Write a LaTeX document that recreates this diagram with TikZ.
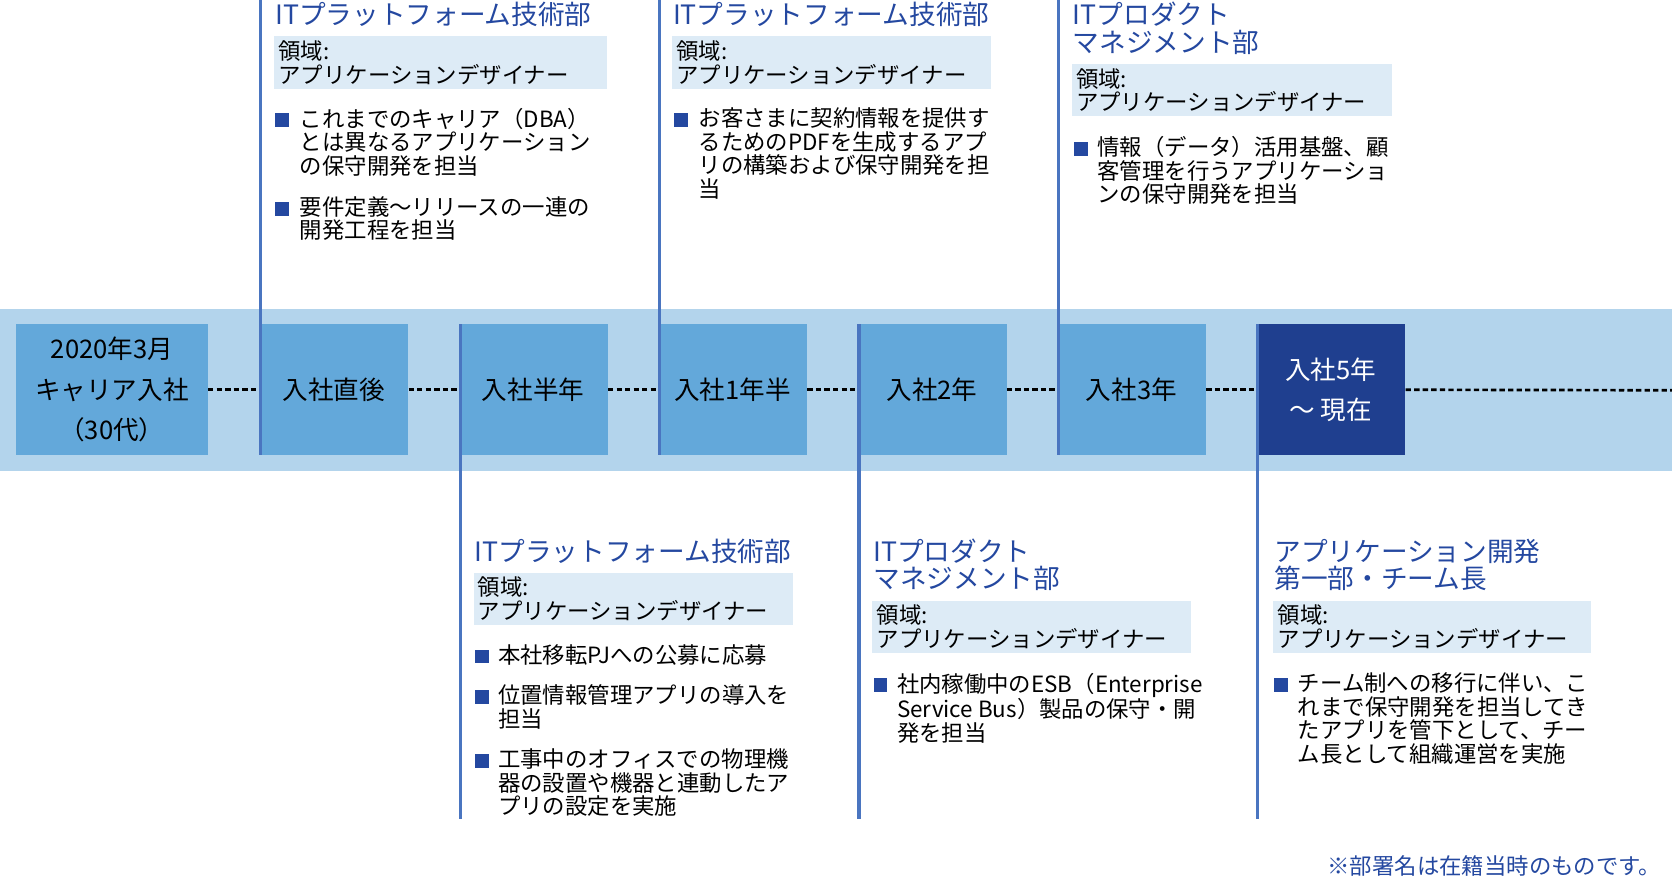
\documentclass[tikz,border=0pt]{standalone}
\usepackage{fontspec}
\setmainfont{Noto Sans CJK JP}
\begin{document}
\begin{tikzpicture}[x=1pt,y=-1pt,
 band/.style={fill=bandc,draw=none},
 stp/.style={fill=stepc,draw=none,minimum width=140pt,minimum height=123pt,inner sep=0pt,font=\fontsize{24}{38}\selectfont,align=center},
 vline/.style={draw=linec,line width=3pt},
 dots/.style={draw=black,line width=2.5pt,dash pattern=on 5pt off 3pt},
 ttl/.style={anchor=north west,inner sep=0pt,text=titlec,font=\fontsize{25}{26}\selectfont,align=left},
 area/.style={anchor=north west,fill=areac,inner sep=4pt,font=\fontsize{21}{22}\selectfont,align=left,text width=#1},
 bul/.style={anchor=north west,inner sep=0pt,font=\fontsize{21}{22}\selectfont,align=left},
 sq/.style={fill=titlec,minimum size=13pt,inner sep=0pt,anchor=north west}]
\definecolor{bandc}{HTML}{B3D4EC}
\definecolor{stepc}{HTML}{63A8DA}
\definecolor{darkc}{HTML}{1F3F8F}
\definecolor{linec}{HTML}{4A75C0}
\definecolor{titlec}{HTML}{2448A0}
\definecolor{areac}{HTML}{DDEBF6}
\useasboundingbox (0,0) rectangle (1568,822);
\fill[band] (0,290) rectangle (1568,442);
\coordinate (e) at (1568,366);
\node[stp,minimum width=180pt] (s1) at (105,365.5) {2020年3月\\キャリア入社\\（30代）};
\node[stp] (s2) at (313,365.5) {入社直後};
\node[stp] (s3) at (500,365.5) {入社半年};
\node[stp] (s4) at (687,365.5) {入社1年半};
\node[stp] (s5) at (874,365.5) {入社2年};
\node[stp] (s6) at (1061,365.5) {入社3年};
\node[stp,fill=darkc,text=white] (s7) at (1248,365.5) {入社5年\\～ 現在};
\draw[dots] (s1.east) -- (s2.west);
\draw[dots] (s2.east) -- (s3.west);
\draw[dots] (s3.east) -- (s4.west);
\draw[dots] (s4.east) -- (s5.west);
\draw[dots] (s5.east) -- (s6.west);
\draw[dots] (s6.east) -- (s7.west);
\draw[dots] (s7.east) -- (e);
\coordinate (t2) at (244.5,0); \coordinate (t4) at (618.5,0); \coordinate (t6) at (992.5,0);
\coordinate (b3) at (431.5,768); \coordinate (b5) at (805.5,768); \coordinate (b7) at (1179.5,768);
\draw[vline] (t2) -- (244.5,427);
\draw[vline] (t4) -- (618.5,427);
\draw[vline] (t6) -- (992.5,427);
\draw[vline] (431.5,304) -- (b3);
\draw[vline] (805.5,304) -- (b5);
\draw[vline] (1179.5,304) -- (b7);
% panel A
\node[ttl] (ta) at (258,2) {ITプラットフォーム技術部};
\node[area=304pt] (aa) at (257,34) {領域:\\アプリケーションデザイナー};
\node[sq] (qa1) at (258,106) {}; \node[bul] (ba1) at (281,101) {これまでのキャリア（DBA）\\とは異なるアプリケーション\\の保守開発を担当};
\node[sq] (qa2) at (258,189) {}; \node[bul] (ba2) at (281,184) {要件定義～リリースの一連の\\開発工程を担当};
% panel B
\node[ttl] (tb) at (631,2) {ITプラットフォーム技術部};
\node[area=291pt] (ab) at (630,34) {領域:\\アプリケーションデザイナー};
\node[sq] (qb1) at (632,106) {}; \node[bul] (bb1) at (655,101) {お客さまに契約情報を提供す\\るためのPDFを生成するアプ\\リの構築および保守開発を担\\当};
% panel C
\node[ttl] (tc) at (1006,2) {ITプロダクト\\マネジメント部};
\node[area=292pt] (ac) at (1005,60) {領域:\\アプリケーションデザイナー};
\node[sq] (qc1) at (1007,133) {}; \node[bul] (bc1) at (1029,128) {情報（データ）活用基盤、顧\\客管理を行うアプリケーショ\\ンの保守開発を担当};
% panel D
\node[ttl] (td) at (445,505) {ITプラットフォーム技術部};
\node[area=291pt] (ad) at (444,537) {領域:\\アプリケーションデザイナー};
\node[sq] (qd1) at (445,609) {}; \node[bul] (bd1) at (467,604) {本社移転PJへの公募に応募};
\node[sq] (qd2) at (445,647) {}; \node[bul] (bd2) at (467,642) {位置情報管理アプリの導入を\\担当};
\node[sq] (qd3) at (445,707) {}; \node[bul] (bd3) at (467,702) {工事中のオフィスでの物理機\\器の設置や機器と連動したア\\プリの設定を実施};
% panel E
\node[ttl] (te) at (819,505) {ITプロダクト\\マネジメント部};
\node[area=291pt] (ae) at (818,563) {領域:\\アプリケーションデザイナー};
\node[sq] (qe1) at (819,636) {}; \node[bul] (be1) at (841,631) {社内稼働中のESB（Enterprise\\Service Bus）製品の保守・開\\発を担当};
% panel F
\node[ttl] (tf) at (1195,505) {アプリケーション開発\\第一部・チーム長};
\node[area=290pt] (af) at (1194,563) {領域:\\アプリケーションデザイナー};
\node[sq] (qf1) at (1195,636) {}; \node[bul] (bf1) at (1217,631) {チーム制への移行に伴い、こ\\れまで保守開発を担当してき\\たアプリを管下として、チー\\ム長として組織運営を実施};
\node[anchor=south east,inner sep=0pt,text=titlec,font=\fontsize{21}{22}\selectfont] (note) at (1558,822) {※部署名は在籍当時のものです。};
\end{tikzpicture}
\end{document}
